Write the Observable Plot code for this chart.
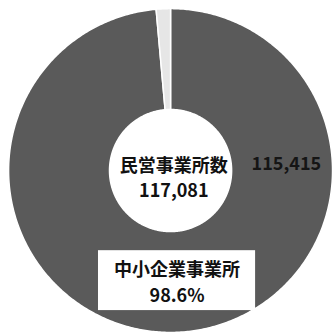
<!DOCTYPE html>
<html><head><meta charset="utf-8">
<script src="https://cdn.jsdelivr.net/npm/d3@7"></script>
<script src="https://cdn.jsdelivr.net/npm/@observablehq/plot@0.6"></script>
<style>
body{margin:0;background:#fff;}
#chart svg{display:block;}
</style>
</head><body><div id="chart"></div>
<script>
const categories = ["中小企業事業所", "大企業事業所"];
const values = [115415, 1666];
const totalLabel = "民営事業所数";
const totalValue = "117,081";
const sliceValueLabel = "115,415";
const shareLabel = "98.6%";
const colors = ["#5a5a5a", "#e6e6e6"];

const innerRatio = 0.377;
const arcs = d3.pie().sort(null)(values);
const pts = [];
arcs.forEach((a, i) => {
  const n = Math.max(4, Math.ceil((a.endAngle - a.startAngle) / 0.01));
  for (let k = 0; k <= n; k++) {
    const t = a.startAngle + (a.endAngle - a.startAngle) * k / n;
    pts.push({cat: categories[i], x: Math.sin(t), y: Math.cos(t)});
  }
  for (let k = n; k >= 0; k--) {
    const t = a.startAngle + (a.endAngle - a.startAngle) * k / n;
    pts.push({cat: categories[i], x: innerRatio * Math.sin(t), y: innerRatio * Math.cos(t)});
  }
});

const centerLabel = [{x: 0.02, y: -0.035, text: totalLabel + "\n" + totalValue}];
const ringLabel = [{x: 0.715, y: 0.04, text: sliceValueLabel}];
const boxLabel = [{x: 0.04, y: -0.68, text: categories[0] + "\n" + shareLabel}];

const font = "'Noto Sans CJK JP', 'Noto Sans', sans-serif";

const chart = Plot.plot({
  width: 333,
  height: 336,
  margin: 0,
  x: {domain: [-1.05, 1.006], axis: null},
  y: {domain: [-1.025, 1.05], axis: null},
  color: {domain: categories, range: colors},
  style: {fontFamily: font, background: "#fff"},
  marks: [
    Plot.line(pts, {x: "x", y: "y", z: "cat", fill: "cat", stroke: "#fff", strokeWidth: 1.5, curve: "linear-closed"}),
    Plot.text(centerLabel, {x: "x", y: "y", text: "text", fontSize: 18, fontWeight: "bold", lineHeight: 1.4, fill: "#111"}),
    Plot.text(ringLabel, {x: "x", y: "y", text: "text", fontSize: 18, fontWeight: "bold", fill: "#151515"}),
    Plot.rect(boxLabel, {x1: d => d.x - 0.485, x2: d => d.x + 0.485, y1: d => d.y - 0.185, y2: d => d.y + 0.185, fill: "#fff"}),
    Plot.text(boxLabel, {x: "x", y: "y", text: "text", fontSize: 18, fontWeight: "bold", lineHeight: 1.45, fill: "#111"})
  ]
});
document.getElementById("chart").append(chart);
</script>
</body></html>
